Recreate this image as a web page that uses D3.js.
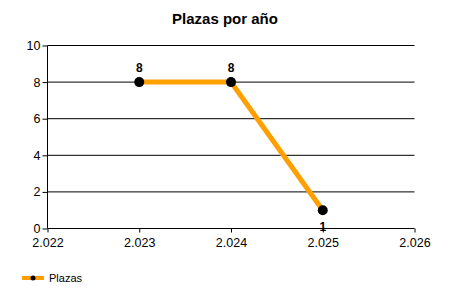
<!DOCTYPE html>
<html><head><meta charset="utf-8">
<script src="https://cdn.jsdelivr.net/npm/d3@7"></script>
<style>body{margin:0;background:#fff}svg{display:block;font-family:"Liberation Sans",Arial,sans-serif}</style>
</head><body><svg id="c" width="450" height="300"></svg>
<script>
const years = [2023, 2024, 2025];
const plazas = [8, 8, 1];
const xTicks = [2022, 2023, 2024, 2025, 2026];
const xTickLabels = ["2.022", "2.023", "2.024", "2.025", "2.026"];
const yTicks = [0, 2, 4, 6, 8, 10];
const seriesName = "Plazas";
const title = "Plazas por año";

const svg = d3.select("#c");
const x = d3.scaleLinear().domain([2022, 2026]).range([47.5, 414.5]);
const y = d3.scaleLinear().domain([0, 10]).range([228.5, 45.5]);

svg.append("text").attr("x", 225).attr("y", 24).attr("text-anchor", "middle")
  .attr("font-weight", "bold").attr("font-size", 15).text(title);

// gridlines
svg.append("g").selectAll("line").data(yTicks.filter(d => d > 0)).join("line")
  .attr("x1", 47.5).attr("x2", 414.5).attr("y1", d => y(d)).attr("y2", d => y(d))
  .attr("stroke", "#000");

const yAxis = d3.axisLeft(y).tickValues(yTicks).tickSize(5).tickPadding(2).tickFormat(d3.format("d"));
const gy = svg.append("g").attr("transform", "translate(47.5,0)").call(yAxis);
gy.select(".domain").attr("d", `M0,${y(10)}V${y(0)}`);
gy.selectAll("text").attr("font-size", 12.5).attr("font-family", "Liberation Sans, Arial, sans-serif");

const xAxis = d3.axisBottom(x).tickValues(xTicks).tickSize(4).tickPadding(6)
  .tickFormat((d, i) => xTickLabels[i]);
const gx = svg.append("g").attr("transform", `translate(0,${y(0)})`).call(xAxis);
gx.select(".domain").attr("d", `M${x(2022)},0H${x(2026)}`);
gx.selectAll("text").attr("font-size", 12.5).attr("font-family", "Liberation Sans, Arial, sans-serif");

const pts = years.map((yr, i) => [yr, plazas[i]]);
svg.append("path").datum(pts)
  .attr("d", d3.line().x(d => x(d[0])).y(d => y(d[1])))
  .attr("fill", "none").attr("stroke", "#FFA000").attr("stroke-width", 5);

svg.append("g").selectAll("circle").data(pts).join("circle")
  .attr("cx", d => x(d[0])).attr("cy", d => y(d[1])).attr("r", 5).attr("fill", "#000");

svg.append("g").selectAll("text").data(pts).join("text")
  .attr("x", d => x(d[0])).attr("y", (d, i) => i === 2 ? y(d[1]) + 21 : y(d[1]) - 10)
  .attr("text-anchor", "middle").attr("font-weight", "bold").attr("font-size", 12)
  .text(d => d[1]);

// legend
const lg = svg.append("g");
lg.append("line").attr("x1", 22).attr("x2", 44).attr("y1", 278).attr("y2", 278)
  .attr("stroke", "#FFA000").attr("stroke-width", 4);
lg.append("circle").attr("cx", 33).attr("cy", 278).attr("r", 2.5).attr("fill", "#000");
lg.append("text").attr("x", 49).attr("y", 282).attr("font-size", 11).text(seriesName);
</script></body></html>
